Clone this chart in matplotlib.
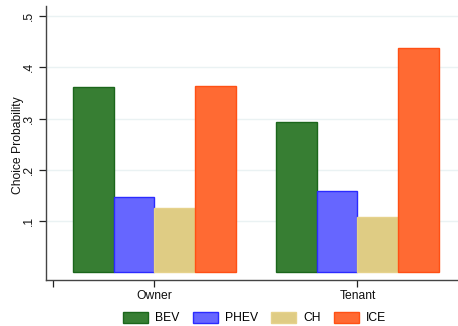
import matplotlib
matplotlib.use("Agg")
import matplotlib.pyplot as plt
import numpy as np

groups = ["Owner", "Tenant"]
series = ["BEV", "PHEV", "CH", "ICE"]
values = {
    "BEV": [0.361, 0.293],
    "PHEV": [0.146, 0.158],
    "CH": [0.126, 0.107],
    "ICE": [0.364, 0.437],
}
fills = {"BEV": "#377E33", "PHEV": "#6666FF", "CH": "#DFCC84", "ICE": "#FF6A33"}
edges = {"BEV": "#1B661B", "PHEV": "#2B2BFF", "CH": "#E6D28C", "ICE": "#FF5014"}
yticks = [0.1, 0.2, 0.3, 0.4, 0.5]
ytick_labels = [".1", ".2", ".3", ".4", ".5"]

plt.rcParams['font.family'] = ['Liberation Sans', 'DejaVu Sans']
fs = 8.7

fig = plt.figure(figsize=(4.58, 3.26), dpi=100)
ax = fig.add_axes([0.0998, 0.1411, 0.9002, 0.8405])

centers = np.array([1.0, 3.0])
w = 0.4
offsets = [-0.6, -0.2, 0.2, 0.6]
for s, off in zip(series, offsets):
    ax.bar(centers + off, values[s], width=w, color=fills[s], edgecolor=edges[s],
           linewidth=1.0, label=s, zorder=3)

ax.set_xlim(-0.07, 3.99)
ax.set_ylim(-0.0156, 0.52)
ax.set_yticks(yticks)
ax.set_yticklabels(ytick_labels, rotation=90, va='center', fontsize=fs)
ax.set_xticks([0, 1, 3])
ax.set_xticklabels(["", "Owner", "Tenant"], fontsize=fs)
ax.tick_params(axis='y', length=5, width=0.9, pad=3, colors='#222222')
ax.tick_params(axis='x', length=5, width=0.9, pad=2, colors='#222222')
for t in ax.get_yticklabels() + ax.get_xticklabels():
    t.set_color('#111111')

for y in yticks:
    ax.axhline(y, color='#EAF2F3', linewidth=1.0, zorder=1)

for sp in ['top', 'right']:
    ax.spines[sp].set_visible(False)
for sp in ['left', 'bottom']:
    ax.spines[sp].set_color('#444444')
    ax.spines[sp].set_linewidth(1.0)

fig.text(18 / 458, 1 - 145 / 326, "Choice Probability", rotation=90,
         ha='center', va='center', fontsize=fs, color='#111111')

fig.legend(loc='center', bbox_to_anchor=(0.556, 0.024), ncol=4, frameon=False,
           fontsize=fs, handlelength=2.05, handleheight=1.0, handletextpad=0.6,
           columnspacing=1.1)

fig.savefig("out.png", dpi=100)
